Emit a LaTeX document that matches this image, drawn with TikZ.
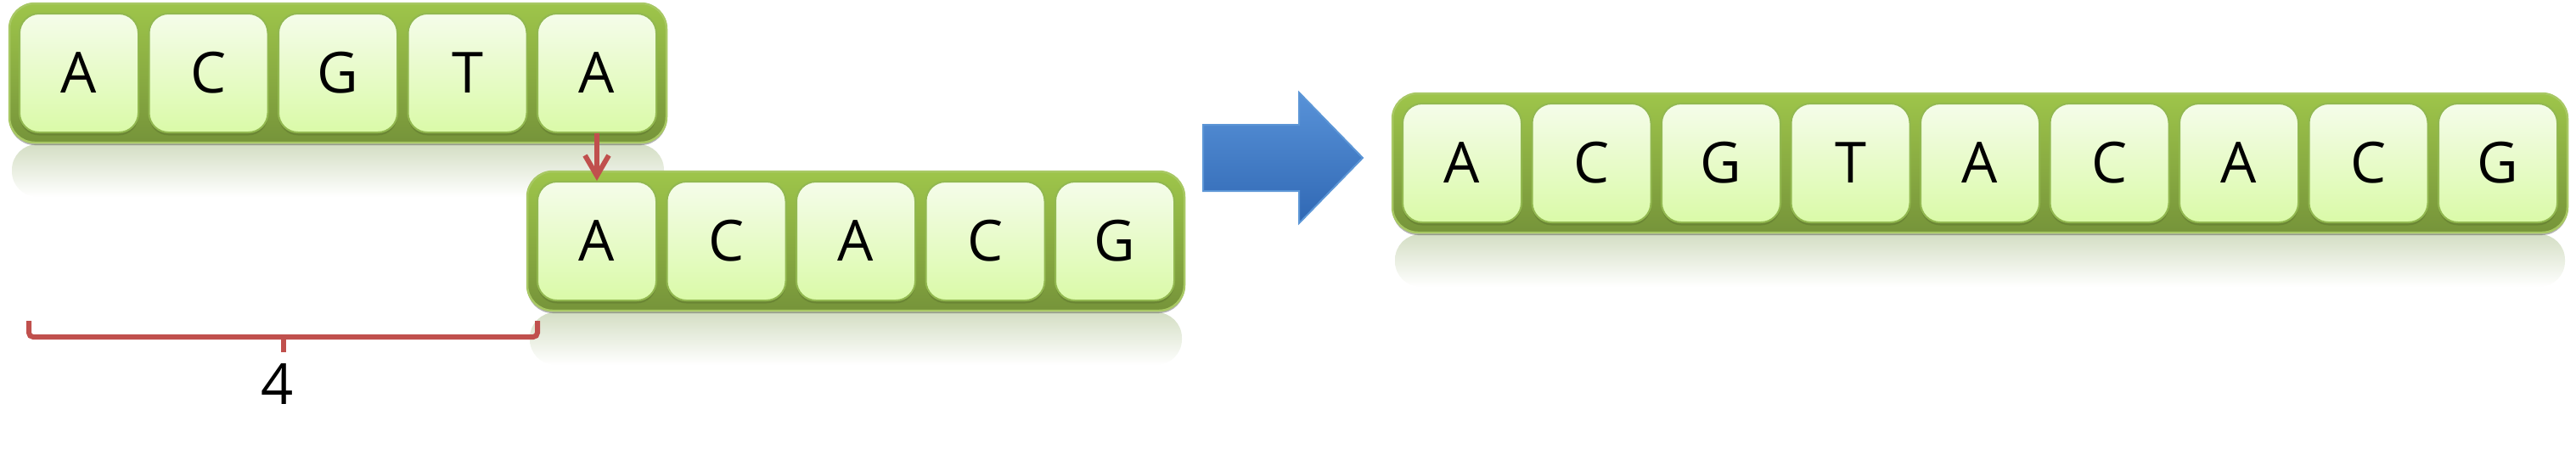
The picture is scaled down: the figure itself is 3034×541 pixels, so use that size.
\documentclass[tikz,border=0pt]{standalone}
\usepackage{fontspec}
\setmainfont{Open Sans}
\usetikzlibrary{arrows.meta,shadows}
\definecolor{strandTop}{RGB}{158,197,74}
\definecolor{strandBot}{RGB}{118,148,58}
\definecolor{strandEdge}{RGB}{168,200,100}
\definecolor{nucTop}{RGB}{245,252,234}
\definecolor{nucBot}{RGB}{218,250,168}
\definecolor{nucEdge}{RGB}{146,184,80}
\definecolor{refl}{RGB}{212,222,196}
\definecolor{linkRed}{RGB}{192,80,77}
\definecolor{mergeTop}{RGB}{88,146,216}
\definecolor{mergeBot}{RGB}{48,104,180}
\definecolor{mergeEdge}{RGB}{92,150,214}
\newcommand\basefont{\fontsize{19pt}{22pt}\selectfont}
\begin{document}
\begin{tikzpicture}[x=0.1mm,y=-0.1mm,
    strand/.style={rounded corners=3mm,top color=strandTop,bottom color=strandBot,
        draw=strandEdge,line width=0.25mm,minimum height=16.4mm,inner sep=0pt,
        drop shadow={shadow xshift=0mm,shadow yshift=-0.3mm,opacity=0.3,fill=black}},
    nuc/.style={rounded corners=2.3mm,top color=nucTop,bottom color=nucBot,
        draw=nucEdge,line width=0.2mm,minimum width=14mm,minimum height=14mm,inner sep=0pt,
        font=\basefont,
        drop shadow={shadow xshift=0mm,shadow yshift=-0.35mm,opacity=0.35,fill=strandBot!70!black}},
    link/.style={draw=linkRed,line width=0.6mm},
    ]
    \useasboundingbox (0,0) rectangle (3034,541);
    % reflections under the strands
    \shade[top color=refl,bottom color=white,rounded corners=3mm] (14,170) rectangle (782,232);
    \shade[top color=refl,bottom color=white,rounded corners=3mm] (624,368) rectangle (1392,430);
    \shade[top color=refl,bottom color=white,rounded corners=3mm] (1643,276) rectangle (3021,338);
    % first read
    \node[strand,minimum width=77.4mm] (upper) at (398,86) {};
    \foreach \b [count=\i] in {A,C,G,T,A}
        \node[nuc] (t\i) at ({93+(\i-1)*152.5},86) {\b};
    % second read, shifted by 4
    \node[strand,minimum width=77.4mm] (lower) at (1008,284) {};
    \foreach \b [count=\i] in {A,C,A,C,G}
        \node[nuc] (b\i) at ({703+(\i-1)*152.5},284) {\b};
    \draw[link,-{Straight Barb[length=2.4mm,width=2.8mm]}] (t5.south) -- (b1.north);
    % offset brace
    \coordinate (bl) at (34,378);
    \coordinate (br) at (633,378);
    \coordinate (bm) at (334,397);
    \draw[link,rounded corners=0.5mm] (bl) -- ++(0,19) -| (br);
    \draw[link] (bm) -- ++(0,18);
    \node[font=\basefont] (shift) at (327,453) {4};
    % merge arrow
    \shade[top color=mergeTop,bottom color=mergeBot,draw=mergeEdge,line width=0.2mm]
        (1417,147) -- (1530,147) -- (1530,109) -- (1605,186) -- (1530,263)
        -- (1530,225) -- (1417,225) -- cycle;
    % merged sequence
    \node[strand,minimum width=138.4mm] (merged) at (2332,192) {};
    \foreach \b [count=\i] in {A,C,G,T,A,C,A,C,G}
        \node[nuc] (r\i) at ({1722+(\i-1)*152.5},192) {\b};
\end{tikzpicture}
\end{document}
